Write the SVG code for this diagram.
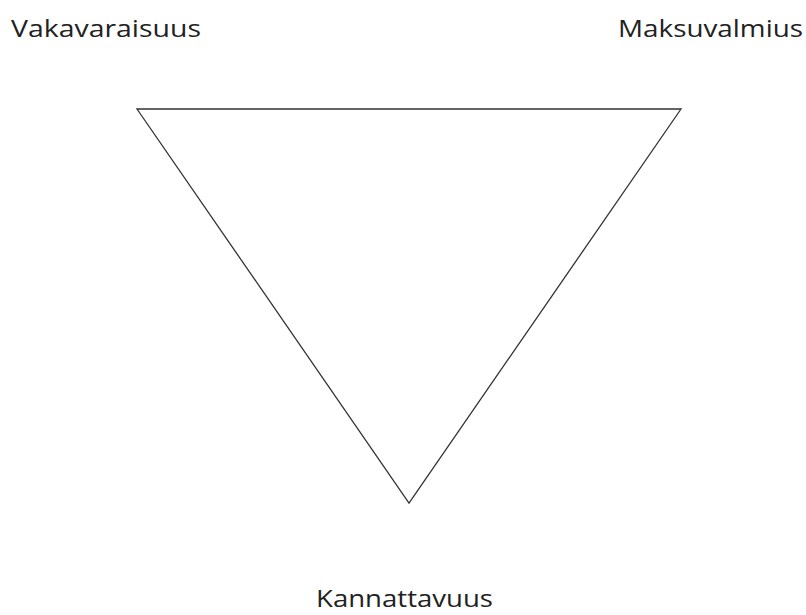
<svg xmlns="http://www.w3.org/2000/svg" width="806" height="615" viewBox="0 0 806 615">
<style>
text{font-family:"Open Sans","Noto Sans",sans-serif;font-size:23px;fill:#222}
.tri{fill:#fff;stroke:#333;stroke-width:1.3}
</style>
<rect width="806" height="615" fill="#fff"/>
<g id="triangle"><polygon class="tri" points="137,109 681,109 409,503"/></g>
<g id="vakavaraisuus"><text x="11" y="37" textLength="190" lengthAdjust="spacingAndGlyphs">Vakavaraisuus</text></g>
<g id="maksuvalmius"><text x="618" y="37" textLength="185" lengthAdjust="spacingAndGlyphs">Maksuvalmius</text></g>
<g id="kannattavuus"><text x="316" y="607" textLength="177" lengthAdjust="spacingAndGlyphs">Kannattavuus</text></g>
<g id="connectors"/>
</svg>
